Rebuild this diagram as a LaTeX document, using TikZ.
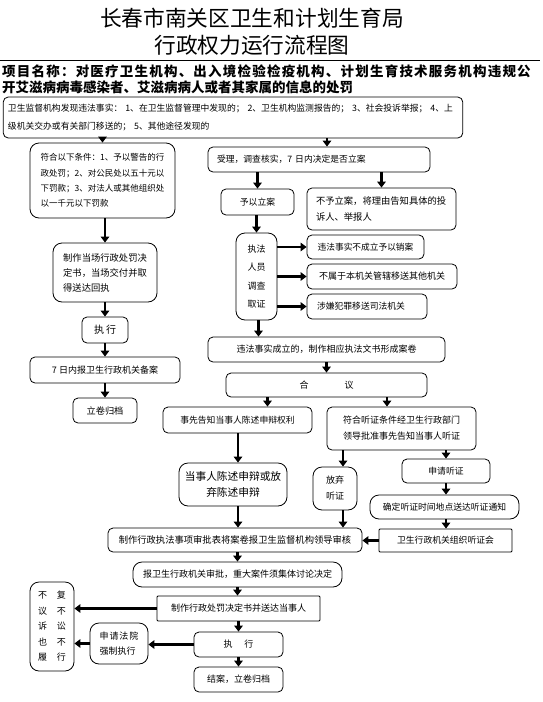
\documentclass[tikz,border=0pt]{standalone}
\usepackage{fontspec}
\setmainfont{Noto Sans CJK SC}
\usetikzlibrary{arrows.meta}

\newcommand\boxfont{\fontsize{8.8}{15}\selectfont}
\newcommand\fsz[2]{\fontsize{#1}{#2}\selectfont}

\tikzset{
  box/.style={draw, line width=0.8pt, rounded corners=5pt, inner sep=0pt, align=center, font=\boxfont},
  rbox/.style={box, rounded corners=9pt},
  sbox/.style={box, rounded corners=1pt},
  wh/.style 2 args={minimum width=#1, minimum height=#2},
  arr/.style={line width=2.4pt, -{Triangle[width=8.5pt,length=6pt]}}
}

\begin{document}
\begin{tikzpicture}[x=1pt, y=-1pt]
\useasboundingbox (0,0) rectangle (542,702);

% Title
\node (title1) at (252,18) {\fsz{21.7}{24}长春市南关区卫生和计划生育局};
\node (title2) at (252,45) {\fsz{21.7}{24}行政权力运行流程图};
\draw[line width=0.8pt] (0,60.5) -- (540,60.5);

% Project name
\node[anchor=west, inner sep=0pt] (proj1) at (2,71.5)
  {\fsz{13.5}{17}\bfseries\addfontfeature{LetterSpace=9}项目名称：对医疗卫生机构、出入境检验检疫机构、计划生育技术服务机构违规公};
\node[anchor=west, inner sep=0pt] (proj2) at (2,87.5)
  {\fsz{13.5}{17}\bfseries 开艾滋病病毒感染者、艾滋病病人或者其家属的信息的处罚};

% Top box
\node[box, wh={459.5pt}{41pt}, text width=450pt, align=left, font=\fsz{8.8}{18}] (found) at (233,117.5)
  {卫生监督机构发现违法事实： 1、在卫生监督管理中发现的； 2、卫生机构监测报告的； 3、社会投诉举报； 4、上\\级机关交办或有关部门移送的； 5、其他途径发现的};

% Left column: summary procedure
\node[rbox, wh={145pt}{75pt}, align=left, font=\fsz{8.5}{15.3}] (cond) at (102.5,180.5)
  {符合以下条件：1、予以警告的行\\政处罚；2、对公民处以五十元以\\下罚款；3、对法人或其他组织处\\以一千元以下罚款};
\node[rbox, wh={104pt}{59pt}, align=left, font=\fsz{9.3}{15}] (spot) at (105,272.5)
  {制作当场行政处罚决\\定书，当场交付并取\\得送达回执};
\node[box, wh={46pt}{26pt}, font=\fsz{10}{12}] (exec1) at (105,330) {执\hspace{2pt}行};
\node[box, wh={150pt}{26pt}, font=\fsz{9}{12}] (record) at (105,370) {7 日内报卫生行政机关备案};
\node[box, wh={64pt}{25pt}, font=\fsz{9.2}{12}] (file1) at (105,410.5) {立卷归档};

% Right column: general procedure
\node[box, wh={222pt}{25pt}, text width=204pt, align=left] (accept) at (319,159.5)
  {受理，调查核实，7 日内决定是否立案};
\node[box, wh={73pt}{26pt}] (open) at (257.5,202) {予以立案};
\node[box, wh={149pt}{42pt}, text width=131pt, align=left, font=\fsz{9.3}{16}] (noopen) at (381.5,209)
  {不予立案，将理由告知具体的投\\诉人、举报人};
\node[rbox, wh={41pt}{87pt}, font=\fsz{9}{18.3}] (invest) at (256.5,276.5) {执法\\人员\\调查\\取证};
\node[box, wh={117pt}{24pt}, font=\fsz{8.7}{12}] (cancel) at (365.5,247) {违法事实不成立予以销案};
\node[box, wh={150pt}{25pt}, font=\fsz{9}{12}] (transfer) at (382,276.5) {不属于本机关管辖移送其他机关};
\node[box, wh={120pt}{25pt}, text width=100pt, align=left] (crime) at (367,306.5) {涉嫌犯罪移送司法机关};
\node[box, wh={237pt}{25pt}, font=\fsz{9}{12}] (proven) at (326.5,349.5) {违法事实成立的，制作相应执法文书形成案卷};
\node[box, wh={201pt}{24pt}, font=\fsz{9}{12}] (discuss) at (326.5,385) {合\hspace{36pt}议};
\node[box, wh={149pt}{26pt}] (notify) at (237.5,420) {事先告知当事人陈述申辩权利};
\node[box, wh={149pt}{43pt}, font=\fsz{9}{16}] (hearcond) at (401.5,428.5)
  {符合听证条件经卫生行政部门\\领导批准事先告知当事人听证};
\node[rbox, wh={108pt}{43pt}, font=\fsz{10.7}{16}] (defend) at (233,484.5) {当事人陈述申辩或放\\弃陈述申辩};
\node[rbox, wh={44pt}{43pt}, font=\fsz{9}{16}] (waive) at (335,488.5) {放弃\\听证};
\node[box, wh={88pt}{24pt}] (apply) at (446,471) {申请听证};
\node[rbox, wh={149pt}{24pt}] (schedule) at (444.5,507) {确定听证时间地点送达听证通知};
\node[sbox, wh={133pt}{23pt}] (hearing) at (445.5,540.5) {卫生行政机关组织听证会};
\node[box, wh={254pt}{24pt}, font=\fsz{9.3}{12}] (approve) at (235,540) {制作行政执法事项审批表将案卷报卫生监督机构领导审核};
\node[rbox, wh={209pt}{25pt}, font=\fsz{9}{12}] (report) at (237.5,574.5) {报卫生行政机关审批，重大案件须集体讨论决定};
\node[sbox, wh={163pt}{25pt}, font=\fsz{9}{12}] (decide) at (238.5,608.5) {制作行政处罚决定书并送达当事人};
\node[rbox, wh={44pt}{89pt}, font=\fsz{9}{15.5}] (refuse) at (52,626.5)
  {不\hspace{10pt}复\\议\hspace{10pt}不\\诉\hspace{10pt}讼\\也\hspace{10pt}不\\履\hspace{10pt}行};
\node[box, wh={89pt}{25pt}, font=\fsz{9}{12}] (exec2) at (238.5,644.5) {执\hspace{12pt}行};
\node[rbox, wh={58pt}{41pt}, align=left, font=\fsz{9}{15}] (court) at (119,643.5)
  {申\hspace{1pt}请\hspace{1pt}法\hspace{1pt}院\\强制执行};
\node[box, wh={89pt}{25pt}, font=\fsz{9}{12}] (close) at (238.5,679.5) {结案，立卷归档};

% Arrows, left column
\draw[arr] (cond.north |- found.south) -- (cond.north);
\draw[arr] (spot.north |- cond.south) -- (spot.north);
\draw[arr] (spot.south) -- (exec1.north);
\draw[arr] (exec1.south) -- (record.north);
\draw[arr] (record.south) -- (file1.north);

% Arrows, right column
\draw[arr] ([xshift=8pt]accept.north |- found.south) -- ([xshift=8pt]accept.north);
\draw[arr] (open.north |- accept.south) -- (open.north);
\draw[arr] (noopen.north |- accept.south) -- (noopen.north);
\draw[arr] (invest.north |- open.south) -- (invest.north);
\draw[arr] (invest.east |- cancel.west) -- (cancel.west);
\draw[arr] (invest.east |- transfer.west) -- (transfer.west);
\draw[arr] (invest.east |- crime.west) -- (crime.west);
\draw[arr] ([xshift=2pt]invest.south) -- ([xshift=2pt]invest.south |- proven.north);
\draw[arr] (discuss.north |- proven.south) -- (discuss.north);
\draw[arr] ([xshift=30pt]notify.north |- discuss.south) -- ([xshift=30pt]notify.north);
\draw[arr] ([xshift=-14.5pt]hearcond.north |- discuss.south) -- ([xshift=-14.5pt]hearcond.north);
\draw[arr] ([xshift=5pt]defend.north |- notify.south) -- ([xshift=5pt]defend.north);
\draw[arr] ([xshift=8pt]waive.north |- hearcond.south) -- ([xshift=8pt]waive.north);
\draw[arr] (apply.north |- hearcond.south) -- (apply.north);
\draw[arr] (apply.south) -- (apply.south |- schedule.north);
\draw[arr] (apply.south |- schedule.south) -- (apply.south |- hearing.north);
\draw[arr] (hearing.west) -- (hearing.west -| approve.east);
\draw[arr] ([xshift=5pt]defend.south) -- ([xshift=5pt]defend.south |- approve.north);
\draw[arr] ([xshift=8pt]waive.south) -- ([xshift=8pt]waive.south |- approve.north);

% Arrows, final stage
\draw[arr] (report.north |- approve.south) -- (report.north);
\draw[arr] (report.south) -- (report.south |- decide.north);
\draw[arr] (decide.west) -- (decide.west -| refuse.east);
\draw[arr] (decide.south) -- (exec2.north);
\draw[arr] (exec2.west) -- (exec2.west -| court.east);
\draw[arr] (court.west) -- (court.west -| refuse.east);
\draw[arr] (exec2.south) -- (close.north);
\end{tikzpicture}
\end{document}
